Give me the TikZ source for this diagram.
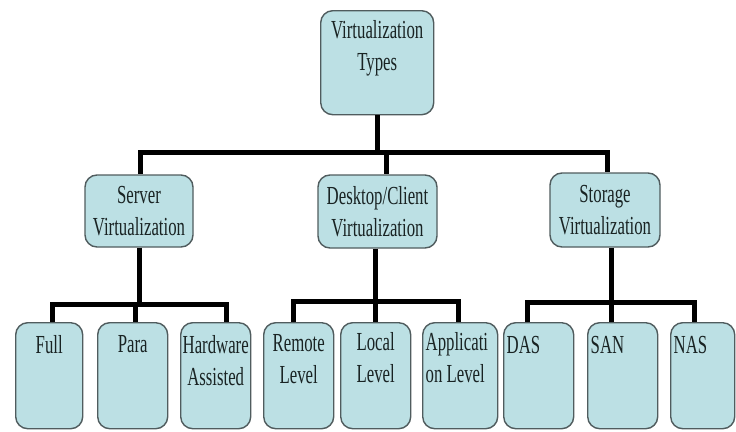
\documentclass[tikz,border=0pt]{standalone}
\usepackage{fontspec}
\setmainfont{Liberation Serif}[FakeStretch=0.645]
\usetikzlibrary{calc}
\definecolor{boxfill}{RGB}{188,224,228}
\definecolor{boxedge}{RGB}{80,92,94}
\definecolor{txt}{RGB}{25,35,35}
\newcommand\topc[4]{\parbox[c][#2pt][t]{#1pt}{\vspace*{#3pt}\centering #4\par}}
\newcommand\topl[4]{\parbox[c][#2pt][t]{#1pt}{\vspace*{#3pt}\raggedright\leftskip=3pt #4\par}}
\tikzset{
  vbox/.style={draw=boxedge, fill=boxfill, line width=1.4pt, rounded corners=12pt,
    inner sep=0pt, text=txt, font=\fontsize{26}{32}\selectfont},
  midbox/.style={vbox, align=center},
  leafbox/.style={vbox, anchor=north west},
  conn/.style={line width=5pt, draw=black, line join=miter}
}
\begin{document}
\begin{tikzpicture}[x=1pt,y=-1pt]
\useasboundingbox (0,0) rectangle (736,431);
% root
\node[leafbox] (root) at (320,10) {\topc{113}{104}{10}{Virtualization\\Types}};
% middle level
\node[midbox, minimum width=108pt, minimum height=72pt] (server) at (139,211) {Server\\Virtualization};
\node[midbox, minimum width=119pt, minimum height=73pt] (desk) at (377.5,211.5) {Desktop/Client\\Virtualization};
\node[midbox, minimum width=110pt, minimum height=74pt] (stor) at (605,210) {Storage\\Virtualization};
% leaves
\node[leafbox] (full) at (15,322) {\topc{67}{106}{13}{Full}};
\node[leafbox] (para) at (97,322) {\topc{70}{106}{13}{Para}};
\node[leafbox] (hw) at (180,322) {\topc{70}{106}{13}{Hardware\\Assisted}};
\node[leafbox] (remote) at (263,322) {\topc{70}{106}{12}{Remote\\Level}};
\node[leafbox] (local) at (340,322) {\topc{70}{106}{10}{Local\\Level}};
\node[leafbox] (app) at (422,322) {\topl{75}{106}{10}{Applicati\\on Level}};
\node[leafbox] (das) at (503,322) {\topl{70}{106}{14}{DAS}};
\node[leafbox] (san) at (587,322) {\topl{70}{106}{14}{SAN}};
\node[leafbox] (nas) at (670,322) {\topl{64}{106}{14}{NAS}};
% connectors
\coordinate (busT) at (0,152);
\coordinate (busS) at (0,304);
\coordinate (busD) at (0,301);
\coordinate (busG) at (0,302);
\draw[conn] (root.south) -- (root.south |- busT) -| ($(server.north)+(1,0)$);
\draw[conn] (root.south |- busT) -| ($(desk.north)+(8.5,0)$);
\draw[conn] (root.south |- busT) -| ($(stor.north)+(2,0)$);
\draw[conn] (server.south) -- (server.south |- busS) -| ($(full.north)+(3.5,0)$);
\draw[conn] (server.south |- busS) -| ($(para.north)+(3,0)$);
\draw[conn] (server.south |- busS) -| ($(hw.north)+(11,0)$);
\draw[conn] ($(desk.south)+(-2.5,0)$) -- ($(desk.south |- busD)+(-2.5,0)$) -| ($(remote.north)+(-5,0)$);
\draw[conn] ($(desk.south |- busD)+(-2.5,0)$) -| ($(local.north)+(0,0)$);
\draw[conn] ($(desk.south |- busD)+(-2.5,0)$) -| ($(app.north)+(-1.5,0)$);
\draw[conn] ($(stor.south)+(6,0)$) -- ($(stor.south |- busG)+(6,0)$) -| ($(das.north)+(-11,0)$);
\draw[conn] ($(stor.south |- busG)+(6,0)$) -| ($(san.north)+(-11,0)$);
\draw[conn] ($(stor.south |- busG)+(6,0)$) -| ($(nas.north)+(-8,0)$);
\end{tikzpicture}
\end{document}
